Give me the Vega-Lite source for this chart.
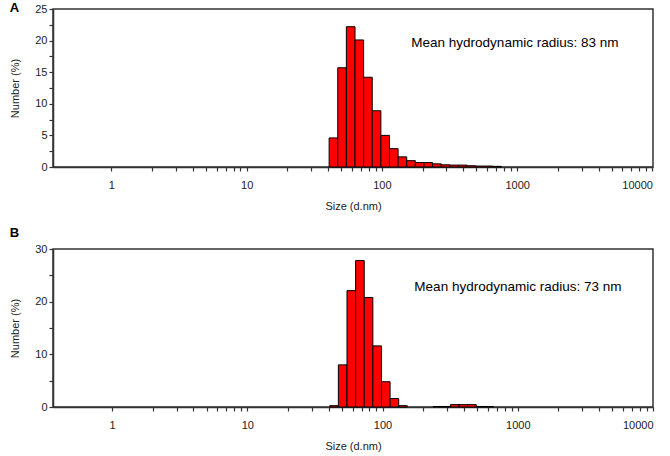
{
  "$schema": "https://vega.github.io/schema/vega-lite/v6.json",
  "background": "white",
  "padding": {"left": 9, "top": 1, "right": 8, "bottom": 4},
  "config": {
    "font": "Liberation Sans",
    "view": {"stroke": "#333", "strokeWidth": 1.5},
    "axis": {
      "grid": false,
      "domainColor": "#333",
      "domainWidth": 1.5,
      "tickColor": "#333",
      "tickSize": 4,
      "tickWidth": 1.2,
      "labelOverlap": false,
      "labelFont": "Liberation Sans",
      "labelFontSize": 11,
      "labelColor": "#222",
      "titleFont": "Liberation Sans",
      "titleFontSize": 11,
      "titleFontWeight": "normal",
      "titleColor": "#222"
    },
    "axisX": {"labelPadding": 8, "titlePadding": 10},
    "axisY": {"labelPadding": 2, "titlePadding": 14},
    "title": {"font": "Liberation Sans", "fontSize": 13, "fontWeight": "bold", "anchor": "start", "frame": "bounds", "color": "#000"},
    "concat": {"spacing": 14}
  },
  "datasets": {
    "a": [
      {"lo": 40.72, "hi": 47.16, "pct": 4.6},
      {"lo": 47.16, "hi": 54.61, "pct": 15.7},
      {"lo": 54.61, "hi": 63.25, "pct": 22.2},
      {"lo": 63.25, "hi": 73.24, "pct": 20.1},
      {"lo": 73.24, "hi": 84.82, "pct": 14.2},
      {"lo": 84.82, "hi": 98.23, "pct": 8.9},
      {"lo": 98.23, "hi": 113.74, "pct": 5.0},
      {"lo": 113.74, "hi": 131.74, "pct": 2.9},
      {"lo": 131.74, "hi": 152.59, "pct": 1.6},
      {"lo": 152.59, "hi": 176.68, "pct": 1.0},
      {"lo": 176.68, "hi": 204.6, "pct": 0.7},
      {"lo": 204.6, "hi": 236.96, "pct": 0.7},
      {"lo": 236.96, "hi": 274.41, "pct": 0.5},
      {"lo": 274.41, "hi": 317.79, "pct": 0.35},
      {"lo": 317.79, "hi": 368.06, "pct": 0.3},
      {"lo": 368.06, "hi": 426.25, "pct": 0.3},
      {"lo": 426.25, "hi": 493.62, "pct": 0.2},
      {"lo": 493.62, "hi": 571.61, "pct": 0.15},
      {"lo": 571.61, "hi": 661.96, "pct": 0.15},
      {"lo": 661.96, "hi": 766.64, "pct": 0.1}
    ],
    "b": [
      {"lo": 40.72, "hi": 47.16, "pct": 0.25},
      {"lo": 47.16, "hi": 54.61, "pct": 8.0},
      {"lo": 54.61, "hi": 63.25, "pct": 22.1},
      {"lo": 63.25, "hi": 73.24, "pct": 27.8},
      {"lo": 73.24, "hi": 84.82, "pct": 20.8},
      {"lo": 84.82, "hi": 98.23, "pct": 11.6},
      {"lo": 98.23, "hi": 113.74, "pct": 4.8},
      {"lo": 113.74, "hi": 131.74, "pct": 1.6},
      {"lo": 131.74, "hi": 152.59, "pct": 0.25},
      {"lo": 236.96, "hi": 274.41, "pct": 0.1},
      {"lo": 274.41, "hi": 317.79, "pct": 0.1},
      {"lo": 317.79, "hi": 368.06, "pct": 0.45},
      {"lo": 368.06, "hi": 426.25, "pct": 0.45},
      {"lo": 426.25, "hi": 493.62, "pct": 0.45},
      {"lo": 493.62, "hi": 571.61, "pct": 0.1},
      {"lo": 571.61, "hi": 661.96, "pct": 0.1}
    ]
  },
  "vconcat": [
    {
      "title": {"text": "A", "offset": -12},
      "width": 600,
      "height": 158,
      "layer": [
        {
          "data": {"name": "a"},
          "mark": {"type": "rect", "fill": "#ff0000", "stroke": "#000", "strokeWidth": 1},
          "encoding": {
            "x": {
              "field": "lo",
              "type": "quantitative",
              "title": "Size (d.nm)",
              "scale": {"type": "log", "domain": [0.37, 10100], "nice": false},
              "axis": {
                "values": [1, 2, 3, 4, 5, 6, 7, 8, 9, 10, 20, 30, 40, 50, 60, 70, 80, 90, 100, 200, 300, 400, 500, 600, 700, 800, 900, 1000, 2000, 3000, 4000, 5000, 6000, 7000, 8000, 9000, 10000],
                "format": "d",
                "labelExpr": "indexof([1, 10, 100, 1000, 10000], datum.value) >= 0 ? datum.label : ''"
              }
            },
            "x2": {"field": "hi"},
            "y": {
              "field": "pct",
              "type": "quantitative",
              "title": "Number (%)",
              "scale": {"domain": [0, 25], "nice": false},
              "axis": {
                "values": [0, 2.5, 5, 7.5, 10, 12.5, 15, 17.5, 20, 22.5, 25],
                "labelExpr": "indexof([0, 5, 10, 15, 20, 25], datum.value) >= 0 ? format(datum.value, 'd') : ''"
              }
            },
            "y2": {"datum": 0}
          }
        },
        {
          "data": {"values": [{"label": "Mean hydrodynamic radius: 83 nm"}]},
          "mark": {"type": "text", "align": "left", "baseline": "middle", "fontSize": 13.5, "font": "Liberation Sans", "color": "#000"},
          "encoding": {
            "x": {
              "datum": 165,
              "type": "quantitative",
              "title": "Size (d.nm)",
              "axis": {
                "values": [1, 2, 3, 4, 5, 6, 7, 8, 9, 10, 20, 30, 40, 50, 60, 70, 80, 90, 100, 200, 300, 400, 500, 600, 700, 800, 900, 1000, 2000, 3000, 4000, 5000, 6000, 7000, 8000, 9000, 10000],
                "format": "d",
                "labelExpr": "indexof([1, 10, 100, 1000, 10000], datum.value) >= 0 ? datum.label : ''"
              }
            },
            "y": {
              "datum": 19.55,
              "type": "quantitative",
              "title": "Number (%)",
              "axis": {
                "values": [0, 2.5, 5, 7.5, 10, 12.5, 15, 17.5, 20, 22.5, 25],
                "labelExpr": "indexof([0, 5, 10, 15, 20, 25], datum.value) >= 0 ? format(datum.value, 'd') : ''"
              }
            },
            "text": {"field": "label"}
          }
        }
      ]
    },
    {
      "title": {"text": "B", "offset": 3},
      "width": 600,
      "height": 158,
      "layer": [
        {
          "data": {"name": "b"},
          "mark": {"type": "rect", "fill": "#ff0000", "stroke": "#000", "strokeWidth": 1},
          "encoding": {
            "x": {
              "field": "lo",
              "type": "quantitative",
              "title": "Size (d.nm)",
              "scale": {"type": "log", "domain": [0.366, 10000], "nice": false},
              "axis": {
                "values": [1, 2, 3, 4, 5, 6, 7, 8, 9, 10, 20, 30, 40, 50, 60, 70, 80, 90, 100, 200, 300, 400, 500, 600, 700, 800, 900, 1000, 2000, 3000, 4000, 5000, 6000, 7000, 8000, 9000, 10000],
                "format": "d",
                "labelExpr": "indexof([1, 10, 100, 1000, 10000], datum.value) >= 0 ? datum.label : ''"
              }
            },
            "x2": {"field": "hi"},
            "y": {
              "field": "pct",
              "type": "quantitative",
              "title": "Number (%)",
              "scale": {"domain": [0, 30], "nice": false},
              "axis": {
                "values": [0, 5, 10, 15, 20, 25, 30],
                "labelExpr": "indexof([0, 10, 20, 30], datum.value) >= 0 ? format(datum.value, 'd') : ''"
              }
            },
            "y2": {"datum": 0}
          }
        },
        {
          "data": {"values": [{"label": "Mean hydrodynamic radius: 73 nm"}]},
          "mark": {"type": "text", "align": "left", "baseline": "middle", "fontSize": 13.5, "font": "Liberation Sans", "color": "#000"},
          "encoding": {
            "x": {
              "datum": 172,
              "type": "quantitative",
              "title": "Size (d.nm)",
              "axis": {
                "values": [1, 2, 3, 4, 5, 6, 7, 8, 9, 10, 20, 30, 40, 50, 60, 70, 80, 90, 100, 200, 300, 400, 500, 600, 700, 800, 900, 1000, 2000, 3000, 4000, 5000, 6000, 7000, 8000, 9000, 10000],
                "format": "d",
                "labelExpr": "indexof([1, 10, 100, 1000, 10000], datum.value) >= 0 ? datum.label : ''"
              }
            },
            "y": {
              "datum": 22.8,
              "type": "quantitative",
              "title": "Number (%)",
              "axis": {
                "values": [0, 5, 10, 15, 20, 25, 30],
                "labelExpr": "indexof([0, 10, 20, 30], datum.value) >= 0 ? format(datum.value, 'd') : ''"
              }
            },
            "text": {"field": "label"}
          }
        }
      ]
    }
  ]
}
